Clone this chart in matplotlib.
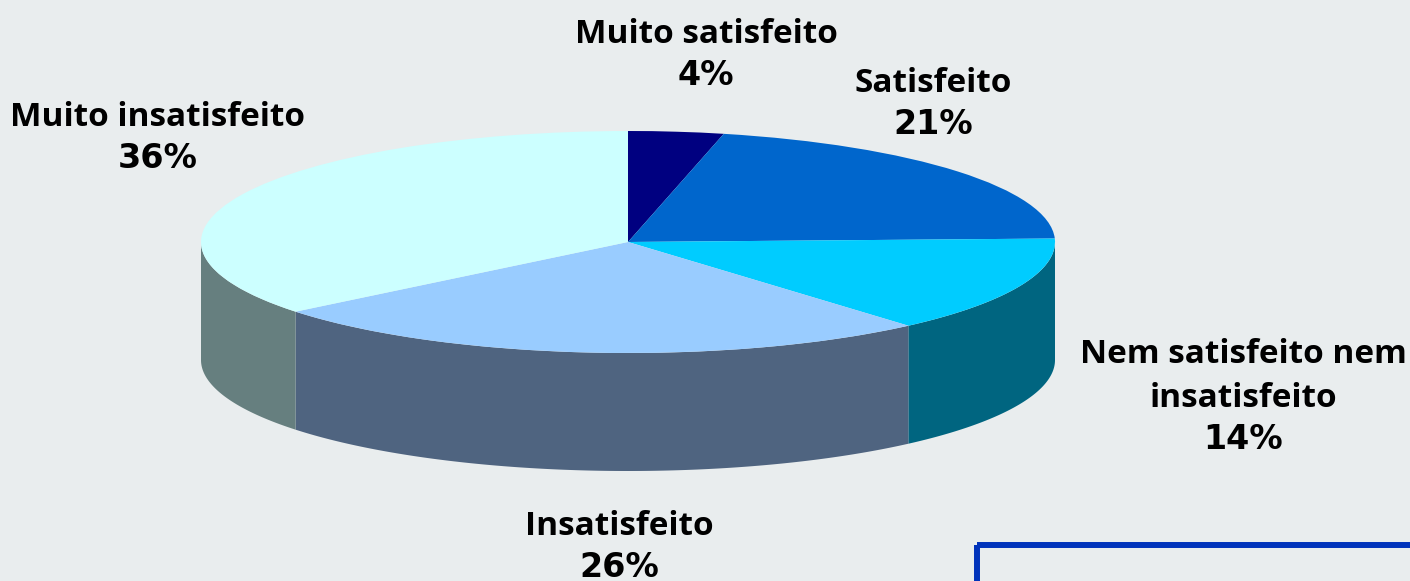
import numpy as np
import matplotlib
matplotlib.use('Agg')
import matplotlib.pyplot as plt
from matplotlib.patches import Rectangle
from matplotlib.transforms import Affine2D

labels = ['Muito satisfeito', 'Satisfeito', 'Nem satisfeito nem\ninsatisfeito', 'Insatisfeito', 'Muito insatisfeito']
shown = ['4%', '21%', '14%', '26%', '36%']
values = [3.6, 20.9, 14.1, 25.6, 35.8]
colors = ['#000080', '#0066CC', '#00CCFF', '#99CCFF', '#CCFFFF']
side_colors = ['#000050', '#003D7A', '#006580', '#4F6480', '#667F7F']
# x centre and baseline of the percent line
label_pos = [(706, 85), (933, 134), (1243, 449), (619, 577), (158, 168)]

plt.rcParams['font.family'] = ['Open Sans', 'DejaVu Sans']
bg = '#E9EDEE'
fig = plt.figure(figsize=(14.10, 5.81), dpi=100, facecolor=bg)
ax = fig.add_axes([0, 0, 1, 1])
ax.set_xlim(0, 1410)
ax.set_ylim(581, 0)
ax.axis('off')

cx, cy, rx, ry, depth = 628, 242, 427, 111, 118

# top of the pie comes from ax.pie, squashed into an ellipse
wedges, _ = ax.pie(values, colors=colors, startangle=90, counterclock=False, radius=1,
                   wedgeprops=dict(linewidth=0))
squash = Affine2D().scale(rx, -ry).translate(cx, cy) + ax.transData
for w in wedges:
    w.set_transform(squash)
    w.set_zorder(3)
ax.set_xlim(0, 1410)
ax.set_ylim(581, 0)
ax.set_aspect('auto')

# side walls, only the front half of the ellipse shows
edges = np.cumsum([0] + values) / sum(values) * 2 * np.pi
for a, b, c in zip(edges[:-1], edges[1:], side_colors):
    lo, hi = max(a, np.pi / 2), min(b, 3 * np.pi / 2)
    if hi <= lo:
        continue
    t = np.linspace(lo, hi, 120)
    x = cx + rx * np.sin(t)
    y = cy - ry * np.cos(t)
    ax.fill(np.r_[x, x[::-1]], np.r_[y, y[::-1] + depth], color=c, lw=0, zorder=2)

# names in Open Sans, the digits look wider so those get DejaVu
for name, pct, (x, y) in zip(labels, shown, label_pos):
    ax.text(x, y - 42, name, ha='center', va='baseline', fontsize=24, fontweight='bold',
            color='black', linespacing=1.43, zorder=5)
    ax.text(x, y, pct, ha='center', va='baseline', fontsize=24, fontweight='bold',
            family=['DejaVu Sans'], color='black', zorder=5)

ax.add_patch(Rectangle((977, 545), 600, 100, facecolor='none', edgecolor='#0033BB', lw=4.3, zorder=4))

fig.savefig('out.png', dpi=100, facecolor=bg)
